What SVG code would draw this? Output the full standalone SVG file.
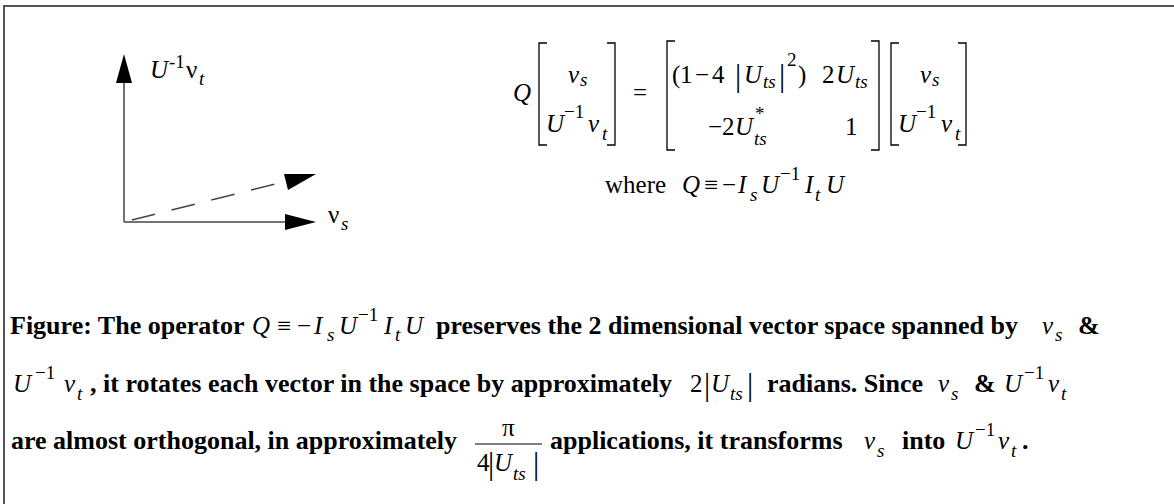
<svg xmlns="http://www.w3.org/2000/svg" width="1174" height="504" viewBox="0 0 1174 504">
<style>
text{font-family:"Liberation Serif","Times New Roman",serif;font-size:26px;fill:#000}
.eq{font-size:25px}
.b{font-weight:bold}
.i{font-style:italic}
.s{font-size:19px}
.bar{font-size:31px}
.br{fill:none;stroke:#000;stroke-width:1.3}
.ax{fill:none;stroke:#444;stroke-width:1.5}
.head{fill:#000}
</style>
<rect width="1174" height="504" fill="#fff"/>
<path d="M4,504 V6 H1174" fill="none" stroke="#555" stroke-width="2"/>

<g id="connectors">
  <line class="ax" x1="124" y1="222" x2="124" y2="82"/>
  <polygon class="head" points="124,54 116,83 132,83"/>
  <line class="ax" x1="124" y1="222" x2="286" y2="222"/>
  <polygon class="head" points="316,222 285,214 285,230"/>
  <line class="ax" x1="124" y1="222" x2="287" y2="181" stroke-dasharray="24 17" stroke-dashoffset="-8"/>
  <polygon class="head" points="316,174 284,174 288,190"/>
</g>

<g id="label-ut">
  <text class="eq" x="150" y="78"><tspan class="i">U</tspan><tspan class="s" x="169" y="68">-1</tspan><tspan x="186" y="78">ν</tspan><tspan class="i s" x="199" y="85">t</tspan></text>
</g>
<g id="label-vs">
  <text class="eq" x="328" y="223">ν<tspan class="i s" x="341" y="230">s</tspan></text>
</g>

<g id="equation">
  <text class="eq i" x="513" y="101">Q</text>
  <path class="br" d="M547,43 H539 V145 H547 M607,43 H615 V145 H607"/>
  <text class="eq" x="568" y="83"><tspan class="i">v</tspan><tspan class="i s" x="580" y="86">s</tspan></text>
  <text class="eq" x="546" y="132"><tspan class="i">U</tspan><tspan class="s" x="564" y="118">−1</tspan><tspan class="i" x="588" y="132">v</tspan><tspan class="i s" x="602" y="140">t</tspan></text>
  <text class="eq" x="633" y="101">=</text>
  <path class="br" d="M675,41 H667 V150 H675 M871,41 H879 V150 H871"/>
  <text class="eq" y="83"><tspan x="672">(</tspan><tspan x="680">1</tspan><tspan x="695">−</tspan><tspan x="712">4</tspan><tspan class="bar" x="735" y="86">|</tspan><tspan class="i" x="744" y="83">U</tspan><tspan class="i s" x="763" y="88">ts</tspan><tspan class="bar" x="779" y="86">|</tspan><tspan class="s" x="787" y="66">2</tspan><tspan x="798" y="83">)</tspan><tspan x="822">2</tspan><tspan class="i" x="836">U</tspan><tspan class="i s" x="855" y="88">ts</tspan></text>
  <text class="eq" y="135"><tspan x="708">−</tspan><tspan x="722">2</tspan><tspan class="i" x="735">U</tspan><tspan class="s" x="755" y="120">*</tspan><tspan class="i s" x="754" y="145">ts</tspan><tspan x="845" y="135">1</tspan></text>
  <path class="br" d="M899,43 H891 V145 H899 M958,43 H966 V145 H958"/>
  <text class="eq" x="920" y="83"><tspan class="i">v</tspan><tspan class="i s" x="932" y="86">s</tspan></text>
  <text class="eq" x="898" y="132"><tspan class="i">U</tspan><tspan class="s" x="916" y="118">−1</tspan><tspan class="i" x="941" y="132">v</tspan><tspan class="i s" x="955" y="140">t</tspan></text>
  <text class="eq" x="605" y="193">where<tspan class="i" x="682">Q</tspan><tspan x="704">≡</tspan><tspan x="722">−</tspan><tspan class="i" x="738">I</tspan><tspan class="i s" x="750" y="201">s</tspan><tspan class="i" x="761" y="193">U</tspan><tspan class="s" x="780" y="180">−1</tspan><tspan class="i" x="805" y="193">I</tspan><tspan class="i s" x="815" y="201">t</tspan><tspan class="i" x="826" y="193">U</tspan></text>
</g>

<g id="caption">
  <text class="b" x="10" y="334">Figure: The operator</text>
  <text class="eq" x="252" y="334"><tspan class="i">Q</tspan><tspan x="277">≡</tspan><tspan x="297">−</tspan><tspan class="i" x="314">I</tspan><tspan class="i s" x="327" y="341">s</tspan><tspan class="i" x="339" y="334">U</tspan><tspan class="s" x="358" y="321">−1</tspan><tspan class="i" x="384" y="334">I</tspan><tspan class="i s" x="395" y="341">t</tspan><tspan class="i" x="405" y="334">U</tspan></text>
  <text class="b" x="436" y="334">preserves the 2 dimensional vector space spanned by</text>
  <text class="eq" x="1042" y="334"><tspan class="i">v</tspan><tspan class="i s" x="1055" y="341">s</tspan></text>
  <text class="b" x="1078" y="334">&amp;</text>

  <text class="eq" x="13" y="392"><tspan class="i">U</tspan><tspan class="s" x="35" y="379">−1</tspan><tspan class="i" x="64" y="392">v</tspan><tspan class="i s" x="77" y="400">t</tspan></text>
  <text class="b" x="90" y="392">, it rotates each vector in the space by approximately</text>
  <text class="eq" x="690" y="392">2<tspan class="bar" x="704" y="395">|</tspan><tspan class="i" x="711" y="392">U</tspan><tspan class="i s" x="730" y="400">ts</tspan><tspan class="bar" x="747" y="395">|</tspan></text>
  <text class="b" x="767" y="392">radians. Since</text>
  <text class="eq" x="938" y="392"><tspan class="i">v</tspan><tspan class="i s" x="951" y="400">s</tspan></text>
  <text class="b" x="974" y="392">&amp;</text>
  <text class="eq" x="1004" y="392"><tspan class="i">U</tspan><tspan class="s" x="1024" y="379">−1</tspan><tspan class="i" x="1048" y="392">v</tspan><tspan class="i s" x="1061" y="400">t</tspan></text>

  <text class="b" x="11" y="449">are almost orthogonal, in approximately</text>
  <text class="eq" x="502" y="436">π</text>
  <line x1="475" y1="444" x2="542" y2="444" stroke="#000" stroke-width="1.2"/>
  <text class="eq" x="477" y="471">4<tspan class="bar" x="488" y="474">|</tspan><tspan class="i" x="494" y="471">U</tspan><tspan class="i s" x="513" y="480">ts</tspan><tspan class="bar" x="533" y="474">|</tspan></text>
  <text class="b" x="550" y="449">applications, it transforms</text>
  <text class="eq" x="864" y="449"><tspan class="i">v</tspan><tspan class="i s" x="877" y="457">s</tspan></text>
  <text class="b" x="902" y="449">into</text>
  <text class="eq" x="955" y="449"><tspan class="i">U</tspan><tspan class="s" x="975" y="436">−1</tspan><tspan class="i" x="998" y="449">v</tspan><tspan class="i s" x="1011" y="457">t</tspan></text>
  <text class="b" x="1022" y="449">.</text>
</g>
</svg>
